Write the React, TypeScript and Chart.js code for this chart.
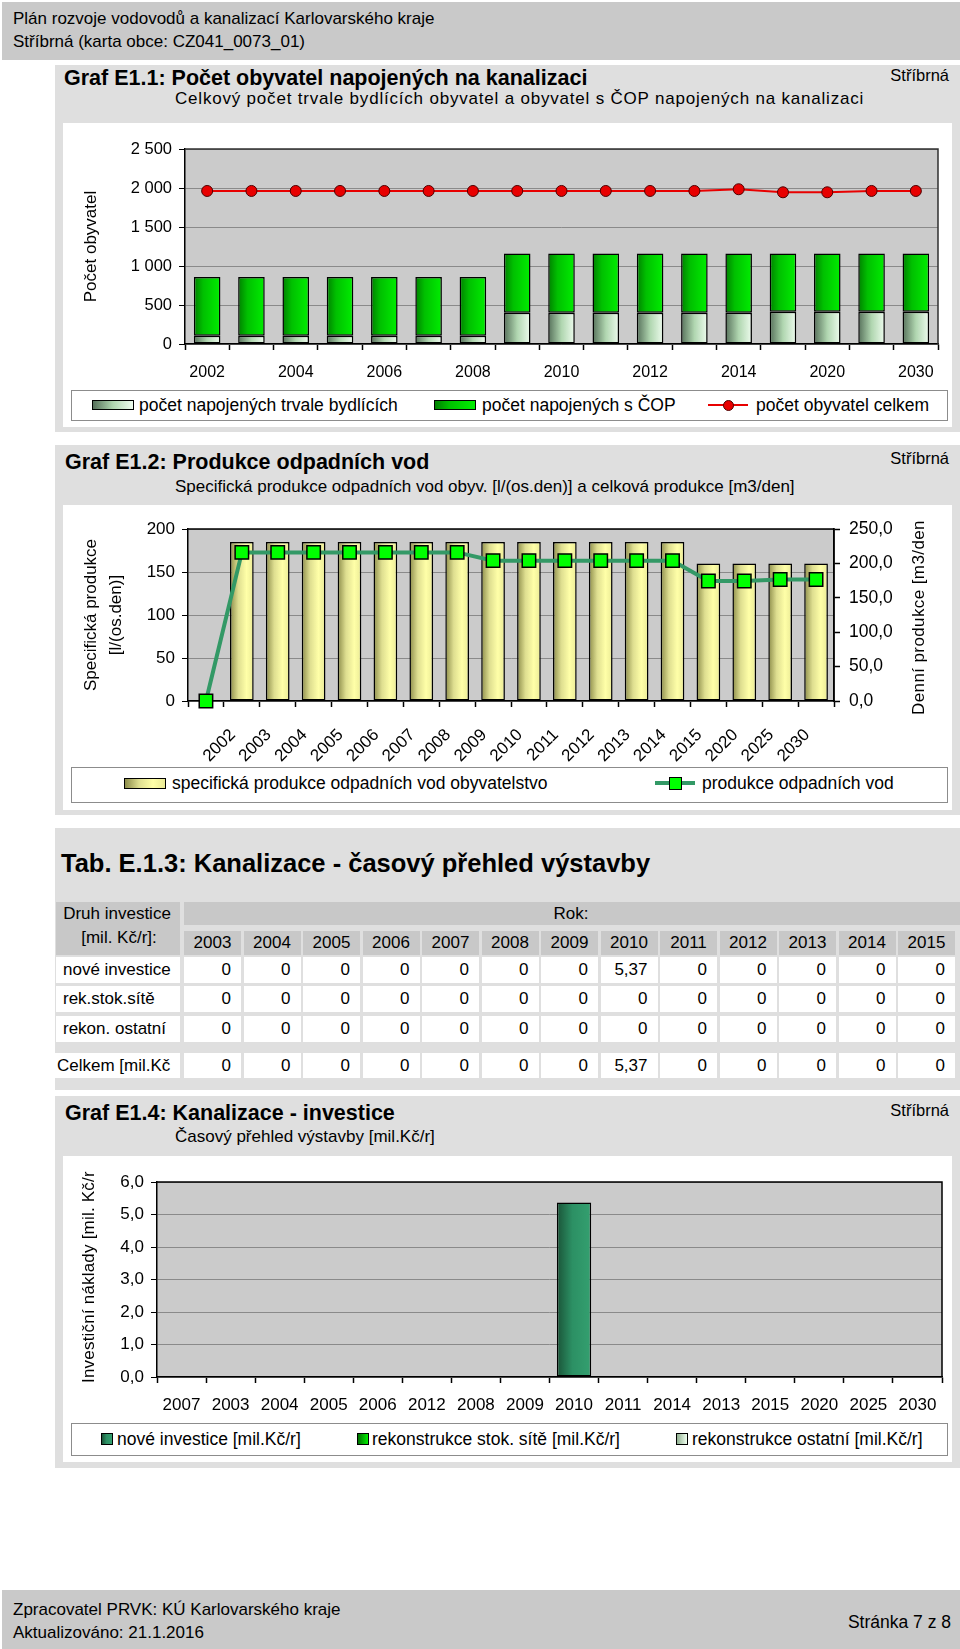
import React, { useEffect, useRef } from 'react';
import { Chart, registerables } from 'chart.js';
Chart.register(...registerables);

const FONT = "'Liberation Sans', Arial, Helvetica, sans-serif";
Chart.defaults.font.family = FONT;
Chart.defaults.color = '#000';

// ---------- Graf E1.1 ----------
const years1 = ['2002', '2003', '2004', '2005', '2006', '2007', '2008', '2009', '2010', '2011', '2012', '2013', '2014', '2015', '2020', '2025', '2030'];
const napojeniTrvale = [107, 107, 107, 107, 107, 107, 107, 400, 400, 400, 400, 400, 400, 415, 415, 415, 415];
const napojeniCOP = [753, 753, 753, 753, 753, 753, 753, 760, 760, 760, 760, 760, 760, 745, 745, 745, 745];
const obyvatelCelkem = [1962, 1962, 1962, 1962, 1962, 1962, 1962, 1962, 1962, 1962, 1962, 1962, 1984, 1945, 1945, 1962, 1962];
const series1 = ['počet napojených trvale bydlících', 'počet napojených s ČOP', 'počet obyvatel celkem'];

// ---------- Graf E1.2 ----------
const years2 = ['', '2002', '2003', '2004', '2005', '2006', '2007', '2008', '2009', '2010', '2011', '2012', '2013', '2014', '2015', '2020', '2025', '2030'];
const specProdukce = [null, 185, 185, 185, 185, 185, 185, 185, 185, 185, 185, 185, 185, 185, 160, 160, 160, 160];
const produkceOV = [0, 216, 216, 216, 216, 216, 216, 216, 204, 204, 204, 204, 204, 204, 174.5, 174.5, 176.5, 176.5];
const series2 = ['specifická produkce odpadních vod obyvatelstvo', 'produkce odpadních vod'];

// ---------- Tab. E.1.3 ----------
const tabYears = ['2003', '2004', '2005', '2006', '2007', '2008', '2009', '2010', '2011', '2012', '2013', '2014', '2015'];
const noveInvestice = [0, 0, 0, 0, 0, 0, 0, 5.37, 0, 0, 0, 0, 0];
const rekStokSite = [0, 0, 0, 0, 0, 0, 0, 0, 0, 0, 0, 0, 0];
const rekOstatni = [0, 0, 0, 0, 0, 0, 0, 0, 0, 0, 0, 0, 0];
const tabRows = ['nové investice', 'rek.stok.sítě', 'rekon. ostatní'];

// ---------- Graf E1.4 ----------
const years4 = ['2007', '2003', '2004', '2005', '2006', '2012', '2008', '2009', '2010', '2011', '2014', '2013', '2015', '2020', '2025', '2030'];
const nove4 = [0, 0, 0, 0, 0, 0, 0, 0, 5.37, 0, 0, 0, 0, 0, 0, 0];
const stok4 = [0, 0, 0, 0, 0, 0, 0, 0, 0, 0, 0, 0, 0, 0, 0, 0];
const ostatni4 = [0, 0, 0, 0, 0, 0, 0, 0, 0, 0, 0, 0, 0, 0, 0, 0];
const series4 = ['nové investice [mil.Kč/r]', 'rekonstrukce stok. sítě [mil.Kč/r]', 'rekonstrukce ostatní [mil.Kč/r]'];

type Stops = [number, string][];
const gradTrvale: Stops = [[0, '#56705a'], [0.5, '#b0d6b0'], [1, '#eefcee']];
const gradCOP: Stops = [[0, '#008000'], [0.35, '#00c000'], [1, '#00ee00']];
const gradYellow: Stops = [[0, '#8c8c4a'], [0.35, '#dede90'], [0.7, '#ffffa8'], [1, '#eaea96']];
const gradNove: Stops = [[0, '#1a5438'], [0.45, '#2c9064'], [1, '#34a070']];
const gradStok: Stops = [[0, '#007000'], [1, '#00f000']];
const gradOstatni: Stops = [[0, '#90b090'], [1, '#f0fff0']];

const css = (s: Stops) => `linear-gradient(to right, ${s.map(([o, c]) => `${c} ${o * 100}%`).join(', ')})`;

function barGradient(stops: Stops, pct: number) {
  return (c: any) => {
    const chart = c.chart;
    const xs = chart.scales && chart.scales.x;
    if (!xs || !chart.chartArea || c.dataIndex === undefined) return stops[stops.length - 1][1];
    const n = chart.data.labels.length;
    const bw = (xs.width / n) * pct;
    const cx = xs.getPixelForValue(c.dataIndex);
    const g = chart.ctx.createLinearGradient(cx - bw / 2, 0, cx + bw / 2, 0);
    stops.forEach(([o, col]) => g.addColorStop(o, col));
    return g;
  };
}

const plotArea = (bg: string, border: string) => ({
  id: 'plotArea',
  beforeDraw(chart: any) {
    const { ctx, chartArea: a } = chart;
    ctx.save();
    ctx.fillStyle = bg;
    ctx.fillRect(a.left, a.top, a.right - a.left, a.bottom - a.top);
    ctx.restore();
  },
  afterDraw(chart: any) {
    const { ctx, chartArea: a } = chart;
    ctx.save();
    ctx.strokeStyle = border;
    ctx.lineWidth = 1.5;
    ctx.beginPath();
    ctx.moveTo(a.left, a.top);
    ctx.lineTo(a.right, a.top);
    ctx.lineTo(a.right, a.bottom);
    ctx.stroke();
    ctx.restore();
  },
});

// rotated (bottom-to-top) axis title, spaced like the original, clipped at the top
const sideTitle = (text: string, x: number, below: number, size: number, spacing: number, hideLast: boolean) => ({
  id: 'sideTitle',
  afterDraw(chart: any) {
    const { ctx, chartArea: a } = chart;
    ctx.save();
    ctx.font = `${size}px ${FONT}`;
    const chars = Array.from(text);
    const widths = chars.map((ch) => ctx.measureText(ch).width + spacing);
    const y0 = a.bottom + below;
    if (hideLast) {
      const visible = widths.slice(0, -1).reduce((s, w) => s + w, 0);
      ctx.beginPath();
      ctx.rect(0, y0 - visible, chart.width, chart.height);
      ctx.clip();
    }
    ctx.translate(x, y0);
    ctx.rotate(-Math.PI / 2);
    ctx.textAlign = 'left';
    ctx.textBaseline = 'middle';
    ctx.fillStyle = '#000';
    let pos = 0;
    chars.forEach((ch, i) => {
      ctx.fillText(ch, pos, 0);
      pos += widths[i];
    });
    ctx.restore();
  },
});

const fmtThousands = (v: any) => {
  const n = Number(v);
  return n >= 1000 ? `${Math.floor(n / 1000)} ${String(n % 1000).padStart(3, '0')}` : String(n);
};
const fmtComma = (v: any) => Number(v).toFixed(1).replace('.', ',');
const fmtCell = (v: number) => String(v).replace('.', ',');

const xAxisBase = (height: number) => ({
  offset: true,
  grid: { display: true, offset: true, drawOnChartArea: false, drawTicks: true, tickLength: 6, tickColor: '#000', tickWidth: 1.5 },
  border: { display: true, color: '#000', width: 1.5 },
  afterFit: (s: any) => { s.height = height; },
});

const BAR1 = 0.6;
const BAR2 = 0.66;
const BAR4 = 0.7;

function config1(): any {
  return {
    type: 'bar',
    data: {
      labels: years1,
      datasets: [
        { type: 'line', label: series1[2], data: obyvatelCelkem, borderColor: '#e80000', borderWidth: 2, pointRadius: 5.5, pointBackgroundColor: '#e80000', pointBorderColor: '#500000', pointBorderWidth: 1, order: 0, clip: false },
        { label: series1[0], data: napojeniTrvale, backgroundColor: barGradient(gradTrvale, BAR1), borderColor: '#000', borderWidth: 1.5, borderSkipped: false, barPercentage: BAR1, categoryPercentage: 1, order: 1 },
        { label: series1[1], data: napojeniCOP, backgroundColor: barGradient(gradCOP, BAR1), borderColor: '#000', borderWidth: 1.5, borderSkipped: false, barPercentage: BAR1, categoryPercentage: 1, order: 2 },
      ],
    },
    options: {
      animation: false,
      responsive: false,
      layout: { padding: { left: 0, right: 14, top: 26, bottom: 0 } },
      plugins: { legend: { display: false }, tooltip: { enabled: false } },
      scales: {
        x: {
          ...xAxisBase(44),
          stacked: true,
          ticks: { autoSkip: false, maxRotation: 0, padding: 13, color: '#000', font: { family: FONT, size: 16 }, callback: (_v: any, i: number) => (i % 2 === 0 ? years1[i] : '') },
        },
        y: {
          stacked: true,
          min: 0,
          max: 2500,
          ticks: { stepSize: 500, padding: 7, color: '#000', font: { family: FONT, size: 16.5 }, callback: fmtThousands },
          grid: { color: '#8a8a8a', lineWidth: 1, tickLength: 6, tickColor: '#000' },
          border: { color: '#000', width: 1.5 },
          title: { display: true, text: 'Počet obyvatel', color: '#000', font: { family: FONT, size: 17 }, padding: { top: 18, bottom: 0 } },
          afterFit: (s: any) => { s.width = 122; },
        },
      },
    },
    plugins: [plotArea('#cbcbcb', '#303030')],
  };
}

function config2(): any {
  return {
    type: 'bar',
    data: {
      labels: years2,
      datasets: [
        { type: 'line', label: series2[1], data: produkceOV, yAxisID: 'y1', borderColor: '#339966', borderWidth: 4, pointStyle: 'rect', pointRadius: 9.5, pointBackgroundColor: '#00ff00', pointBorderColor: '#000', pointBorderWidth: 1.5, order: 0, clip: false },
        { label: series2[0], data: specProdukce, yAxisID: 'y', backgroundColor: barGradient(gradYellow, BAR2), borderColor: '#000', borderWidth: 1.5, borderSkipped: false, barPercentage: BAR2, categoryPercentage: 1, order: 1 },
      ],
    },
    options: {
      animation: false,
      responsive: false,
      layout: { padding: { left: 0, right: 0, top: 24, bottom: 0 } },
      plugins: { legend: { display: false }, tooltip: { enabled: false } },
      scales: {
        x: {
          ...xAxisBase(64),
          ticks: { autoSkip: false, minRotation: 45, maxRotation: 45, padding: 18, labelOffset: -9, color: '#000', font: { family: FONT, size: 17 } },
        },
        y: {
          position: 'left',
          min: 0,
          max: 200,
          ticks: { stepSize: 50, padding: 7, color: '#000', font: { family: FONT, size: 17 } },
          grid: { color: '#8a8a8a', lineWidth: 1, tickLength: 6, tickColor: '#000' },
          border: { color: '#000', width: 1.5 },
          title: { display: true, text: ['Specifická produkce', '[l/(os.den)]'], color: '#000', font: { family: FONT, size: 17, lineHeight: 1.45 }, padding: { top: 16, bottom: 0 } },
          afterFit: (s: any) => { s.width = 125; },
        },
        y1: {
          position: 'right',
          min: 0,
          max: 250,
          ticks: { stepSize: 50, padding: 9, color: '#000', font: { family: FONT, size: 17.5 }, callback: fmtComma },
          grid: { drawOnChartArea: false, tickLength: 6, tickColor: '#000', tickWidth: 1.5 },
          border: { color: '#000', width: 1.5 },
          afterFit: (s: any) => { s.width = 118; },
        },
      },
    },
    plugins: [plotArea('#cbcbcb', '#000'), sideTitle('Denní produkce [m3/den]', 856, 14, 17, 0.4, true)],
  };
}

function config4(): any {
  const bw = (c: any) => (c.raw ? 1.5 : 0);
  return {
    type: 'bar',
    data: {
      labels: years4,
      datasets: [
        { label: series4[0], data: nove4, backgroundColor: barGradient(gradNove, BAR4), borderColor: '#000', borderWidth: bw, borderSkipped: false, barPercentage: BAR4, categoryPercentage: 1 },
        { label: series4[1], data: stok4, backgroundColor: barGradient(gradStok, BAR4), borderColor: '#000', borderWidth: bw, borderSkipped: false, barPercentage: BAR4, categoryPercentage: 1 },
        { label: series4[2], data: ostatni4, backgroundColor: barGradient(gradOstatni, BAR4), borderColor: '#000', borderWidth: bw, borderSkipped: false, barPercentage: BAR4, categoryPercentage: 1 },
      ],
    },
    options: {
      animation: false,
      responsive: false,
      layout: { padding: { left: 0, right: 10, top: 26, bottom: 0 } },
      plugins: { legend: { display: false }, tooltip: { enabled: false } },
      scales: {
        x: {
          ...xAxisBase(43),
          stacked: true,
          ticks: { autoSkip: false, maxRotation: 0, padding: 12, color: '#000', font: { family: FONT, size: 17 } },
        },
        y: {
          stacked: true,
          min: 0,
          max: 6,
          ticks: { stepSize: 1, padding: 7, color: '#000', font: { family: FONT, size: 17 }, callback: fmtComma },
          grid: { color: '#8a8a8a', lineWidth: 1, tickLength: 6, tickColor: '#000' },
          border: { color: '#000', width: 1.5 },
          afterFit: (s: any) => { s.width = 94; },
        },
      },
    },
    plugins: [plotArea('#cbcbcb', '#000'), sideTitle('Investiční náklady [mil. Kč/r]', 26, 6, 17, 0.2, true)],
  };
}

function ChartBox({ make, left, top, width, height }: { make: () => any; left: number; top: number; width: number; height: number }) {
  const ref = useRef<HTMLCanvasElement>(null);
  useEffect(() => {
    const chart = new Chart(ref.current as HTMLCanvasElement, make());
    return () => chart.destroy();
  }, []);
  return (
    <div style={{ position: 'absolute', left, top, width, height }}>
      <canvas ref={ref} width={width} height={height} style={{ display: 'block' }} />
    </div>
  );
}

function T(p: { x: number; y: number; size: number; bold?: boolean; right?: boolean; center?: boolean; spacing?: number; children: React.ReactNode }) {
  const h = Math.round(p.size * 1.2);
  const pos: React.CSSProperties = p.right ? { right: 960 - p.x } : p.center ? { left: p.x - 200, width: 400, textAlign: 'center' } : { left: p.x };
  return (
    <div style={{ position: 'absolute', top: p.y - h / 2, height: h, lineHeight: `${h}px`, fontSize: p.size, fontWeight: p.bold ? 'bold' : 'normal', letterSpacing: p.spacing ? `${p.spacing}px` : undefined, whiteSpace: 'nowrap', fontFamily: FONT, color: '#000', ...pos }}>
      {p.children}
    </div>
  );
}

function Rect({ l, t, w, h, bg, extra }: { l: number; t: number; w: number; h: number; bg: string; extra?: React.CSSProperties }) {
  return <div style={{ position: 'absolute', left: l, top: t, width: w, height: h, background: bg, boxSizing: 'border-box', ...extra }} />;
}

type LegItem = { kind: 'bar' | 'line' | 'square'; label: string; sx: number; tx: number; fill?: string; line?: string; lineW?: number; marker?: 'circle' | 'rect'; markerFill?: string; markerBorder?: string; sw?: number; sh?: number };

function Legend({ top, height, cy, items }: { top: number; height: number; cy: number; items: LegItem[] }) {
  return (
    <>
      <Rect l={71} t={top} w={877} h={height} bg="#fff" extra={{ border: '1px solid #8c8c8c' }} />
      {items.map((it, i) => {
        let sw: React.ReactNode = null;
        if (it.kind === 'bar' || it.kind === 'square') {
          const w = it.sw || 42;
          const h = it.sh || 10;
          sw = <div style={{ position: 'absolute', left: it.sx, top: cy - h / 2, width: w, height: h, background: it.fill, border: '1.5px solid #000', boxSizing: 'border-box' }} />;
        } else {
          const ms = it.marker === 'circle' ? 11 : 13;
          sw = (
            <>
              <div style={{ position: 'absolute', left: it.sx, top: cy - (it.lineW || 2) / 2, width: 40, height: it.lineW || 2, background: it.line }} />
              <div style={{ position: 'absolute', left: it.sx + 20 - ms / 2, top: cy - ms / 2, width: ms, height: ms, background: it.markerFill, border: `1px solid ${it.markerBorder}`, borderRadius: it.marker === 'circle' ? '50%' : 0, boxSizing: 'border-box' }} />
            </>
          );
        }
        return (
          <React.Fragment key={i}>
            {sw}
            <T x={it.tx} y={cy} size={17.5}>{it.label}</T>
          </React.Fragment>
        );
      })}
    </>
  );
}

function Table() {
  const colL = (i: number) => 184 + i * 59.5;
  const rowTops = [957, 986, 1016];
  const rows = [noveInvestice, rekStokSite, rekOstatni];
  const celkem = tabYears.map((_, i) => noveInvestice[i] + rekStokSite[i] + rekOstatni[i]);
  const cellText = (v: number, l: number, t: number, h: number, key: string) => (
    <div key={key} style={{ position: 'absolute', left: l, top: t, width: 57, height: h, background: '#fff', fontFamily: FONT, fontSize: 17, lineHeight: `${h}px`, textAlign: 'right', paddingRight: 10, boxSizing: 'border-box' }}>{fmtCell(v)}</div>
  );
  return (
    <>
      <Rect l={56} t={902} w={124} h={53} bg="#c8c8c8" />
      <T x={117} y={914} size={17} center>Druh investice</T>
      <T x={119} y={938} size={17} center>[mil. Kč/r]:</T>
      <Rect l={184} t={902} w={776} h={23} bg="#c8c8c8" />
      <T x={571} y={914} size={17} center>Rok:</T>
      {tabYears.map((y, i) => (
        <div key={y} style={{ position: 'absolute', left: colL(i), top: 931, width: 57, height: 24, background: '#c8c8c8', fontFamily: FONT, fontSize: 17, lineHeight: '24px', textAlign: 'center' }}>{y}</div>
      ))}
      {rows.map((r, ri) => (
        <React.Fragment key={ri}>
          <div style={{ position: 'absolute', left: 56, top: rowTops[ri], width: 124, height: 26, background: '#fff', fontFamily: FONT, fontSize: 17, lineHeight: '26px', paddingLeft: 7, boxSizing: 'border-box', whiteSpace: 'nowrap' }}>{tabRows[ri]}</div>
          {r.map((v, i) => cellText(v, colL(i), rowTops[ri], 26, `${ri}-${i}`))}
        </React.Fragment>
      ))}
      <div style={{ position: 'absolute', left: 54, top: 1053, width: 126, height: 25, background: '#fff', fontFamily: FONT, fontSize: 17, lineHeight: '25px', paddingLeft: 3, boxSizing: 'border-box', whiteSpace: 'nowrap', overflow: 'hidden' }}>Celkem [mil.Kč</div>
      {celkem.map((v, i) => cellText(v, colL(i), 1053, 25, `c-${i}`))}
    </>
  );
}

export default function App() {
  const panel = '#dfdfdf';
  return (
    <div style={{ position: 'absolute', left: 0, top: 0, width: 960, height: 1649, background: '#fff', overflow: 'hidden', fontFamily: FONT }}>
      {/* header */}
      <Rect l={2} t={2} w={958} h={58} bg="#c9c9c9" />
      <T x={13} y={19} size={17}>Plán rozvoje vodovodů a kanalizací Karlovarského kraje</T>
      <T x={13} y={42} size={17}>Stříbrná (karta obce: CZ041_0073_01)</T>

      {/* Graf E1.1 */}
      <Rect l={55} t={65} w={905} h={367} bg={panel} />
      <T x={64} y={78} size={21.5} bold>Graf E1.1: Počet obyvatel napojených na kanalizaci</T>
      <T x={949} y={75} size={16.5} right>Stříbrná</T>
      <T x={175} y={99} size={17} spacing={0.8}>Celkový počet trvale bydlících obyvatel a obyvatel s ČOP napojených na kanalizaci</T>
      <Rect l={63} t={123} w={889} h={304} bg="#fff" />
      <ChartBox make={config1} left={63} top={123} width={889} height={265} />
      <Legend top={390} height={31} cy={405} items={[
        { kind: 'bar', label: series1[0], sx: 92, tx: 139, fill: css(gradTrvale) },
        { kind: 'bar', label: series1[1], sx: 434, tx: 482, fill: css(gradCOP) },
        { kind: 'line', label: series1[2], sx: 708, tx: 756, line: '#e80000', lineW: 2, marker: 'circle', markerFill: '#e80000', markerBorder: '#500000' },
      ]} />

      {/* Graf E1.2 */}
      <Rect l={55} t={445} w={905} h={370} bg={panel} />
      <T x={65} y={462} size={21.5} bold>Graf E1.2: Produkce odpadních vod</T>
      <T x={949} y={458} size={16.5} right>Stříbrná</T>
      <T x={175} y={487} size={17}>Specifická produkce odpadních vod obyv. [l/(os.den)] a celková produkce [m3/den]</T>
      <Rect l={63} t={505} w={889} h={305} bg="#fff" />
      <ChartBox make={config2} left={63} top={505} width={889} height={260} />
      <Legend top={767} height={36} cy={783} items={[
        { kind: 'bar', label: series2[0], sx: 124, tx: 172, fill: css(gradYellow), sh: 11 },
        { kind: 'line', label: series2[1], sx: 655, tx: 702, line: '#339966', lineW: 4, marker: 'rect', markerFill: '#00ff00', markerBorder: '#000' },
      ]} />

      {/* Tab. E.1.3 */}
      <Rect l={55} t={828} w={905} h={262} bg={panel} />
      <T x={61} y={863} size={25.5} bold>Tab. E.1.3: Kanalizace - časový přehled výstavby</T>
      <Table />

      {/* Graf E1.4 */}
      <Rect l={55} t={1096} w={905} h={372} bg={panel} />
      <T x={65} y={1113} size={21.5} bold>Graf E1.4: Kanalizace - investice</T>
      <T x={949} y={1110} size={16.5} right>Stříbrná</T>
      <T x={175} y={1137} size={17}>Časový přehled výstavby [mil.Kč/r]</T>
      <Rect l={63} t={1156} w={889} h={306} bg="#fff" />
      <ChartBox make={config4} left={63} top={1156} width={889} height={264} />
      <Legend top={1423} height={33} cy={1439} items={[
        { kind: 'square', label: series4[0], sx: 101, tx: 117, fill: css(gradNove), sw: 12, sh: 12 },
        { kind: 'square', label: series4[1], sx: 357, tx: 372, fill: css(gradStok), sw: 12, sh: 12 },
        { kind: 'square', label: series4[2], sx: 676, tx: 692, fill: css(gradOstatni), sw: 12, sh: 12 },
      ]} />

      {/* footer */}
      <Rect l={2} t={1590} w={958} h={59} bg="#c9c9c9" />
      <T x={13} y={1610} size={17}>Zpracovatel PRVK: KÚ Karlovarského kraje</T>
      <T x={13} y={1633} size={17}>Aktualizováno: 21.1.2016</T>
      <T x={951} y={1622} size={17.5} right>Stránka 7 z 8</T>
    </div>
  );
}
